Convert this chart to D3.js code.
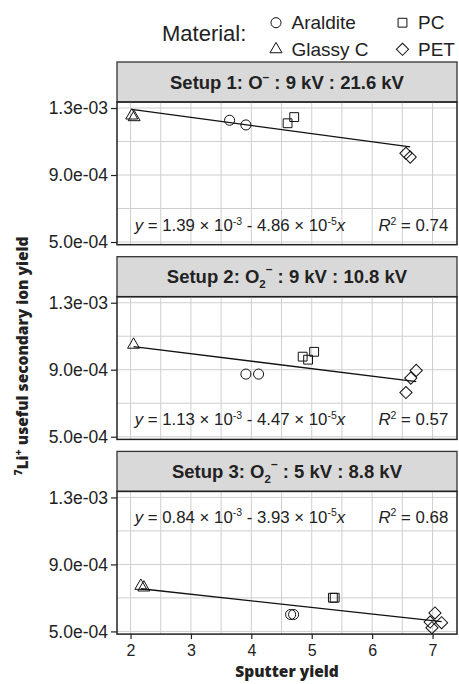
<!DOCTYPE html>
<html lang="en">
<head>
    <meta charset="UTF-8">
    <title>Li useful yield vs sputter yield</title>
    <script src="https://d3js.org/d3.v7.min.js"></script>
    <style>
        body { margin: 0; background: #fff; }
        text { font-family: "Liberation Sans", Arial, sans-serif; fill: #222; }
    </style>
</head>
<body>
<svg id="chart"></svg>

<script>
    // data
    var materials = ["Araldite", "Glassy C", "PC", "PET"];

    var ions = ["O", "O2", "O2"];
    var setupNames = ["Setup 1", "Setup 2", "Setup 3"];
    var primaryKV = ["9", "9", "5"];
    var totalKV = ["21.6", "10.8", "8.8"];

    // setup 1
    var s1Material = ["Araldite", "Araldite", "Glassy C", "Glassy C", "PC", "PC", "PET", "PET"];
    var s1Sputter = [3.64, 3.91, 2.02, 2.06, 4.60, 4.71, 6.56, 6.63];
    var s1Yield = [1.227e-3, 1.199e-3, 1.255e-3, 1.245e-3, 1.209e-3, 1.246e-3, 1.030e-3, 1.007e-3];

    // setup 2
    var s2Material = ["Araldite", "Araldite", "Glassy C", "PC", "PC", "PC", "PET", "PET", "PET"];
    var s2Sputter = [3.91, 4.12, 2.05, 4.85, 4.94, 5.04, 6.56, 6.64, 6.73];
    var s2Yield = [8.74e-4, 8.74e-4, 1.049e-3, 9.78e-4, 9.60e-4, 1.007e-3, 7.64e-4, 8.50e-4, 8.96e-4];

    // setup 3
    var s3Material = ["Araldite", "Araldite", "Glassy C", "Glassy C", "PC", "PC", "PET", "PET", "PET", "PET"];
    var s3Sputter = [4.65, 4.70, 2.17, 2.22, 5.35, 5.38, 7.04, 7.15, 6.99, 6.96];
    var s3Yield = [6.01e-4, 6.01e-4, 7.72e-4, 7.62e-4, 7.01e-4, 7.01e-4, 6.10e-4, 5.52e-4, 5.22e-4, 5.56e-4];

    // fits
    var interceptText = ["1.39", "1.13", "0.84"];
    var slopeText = ["4.86", "4.47", "3.93"];
    var intercepts = [1.39e-3, 1.13e-3, 0.84e-3];
    var slopes = [-4.86e-5, -4.47e-5, -3.93e-5];
    var rSquared = ["0.74", "0.57", "0.68"];
    var eqnY = [6.0e-4, 6.05e-4, 1.185e-3];

    var xTicks = [2, 3, 4, 5, 6, 7];
    var xMinor = [2.5, 3.5, 4.5, 5.5, 6.5];
    var yTicks = [5e-4, 9e-4, 1.3e-3];
    var yMinor = [7e-4, 1.1e-3];

    (function() {
        var width = 459, height = 684;
        var left = 117, right = 457;
        var top = 62, stripH = 40, panelH = 142.7, gap = 12;

        var svg = d3.select("#chart").attr("width", width).attr("height", height);
        svg.append("rect").attr("width", width).attr("height", height).attr("fill", "#fff");

        var x = d3.scaleLinear().domain([1.776, 7.405]).range([left, right]);

        var shapes = {
            "Araldite": d3.symbol().type(d3.symbolCircle).size(80),
            "Glassy C": d3.symbol().type(d3.symbolTriangle).size(62),
            "PC": d3.symbol().type(d3.symbolSquare).size(78),
            "PET": d3.symbol().type(d3.symbolSquare).size(74)
        };
        function shapeTransform(m, px, py) {
            return "translate(" + px + "," + py + ")" + (m === "PET" ? "rotate(45)" : "");
        }

        function fmt(v) {
            return d3.format(".1e")(v).replace(/e([+-])(\d)$/, "e$10$2");
        }

        var sets = [
            {mat: s1Material, sx: s1Sputter, sy: s1Yield},
            {mat: s2Material, sx: s2Sputter, sy: s2Yield},
            {mat: s3Material, sx: s3Sputter, sy: s3Yield}
        ];

        sets.forEach(function(set, i) {
            var sTop = top + i * (stripH + panelH + gap);
            var pTop = sTop + stripH;
            var y = d3.scaleLinear().domain([4.84e-4, 1.336e-3]).range([pTop + panelH, pTop]);

            // strip
            svg.append("rect").attr("x", left).attr("y", sTop).attr("width", right - left).attr("height", stripH)
                .attr("fill", "#d9d9d9").attr("stroke", "#333").attr("stroke-width", 1.3);
            var st = svg.append("text").attr("x", (left + right) / 2).attr("y", sTop + stripH / 2 + 6.5)
                .attr("text-anchor", "middle").attr("font-weight", "bold").attr("font-size", 18.5);
            st.append("tspan").text(setupNames[i] + ": O");
            if (ions[i] === "O2") {
                st.append("tspan").attr("font-size", 11.5).attr("dy", 5).text("2");
                st.append("tspan").attr("font-size", 12).attr("dy", -15).text("\u2013");
                st.append("tspan").attr("dy", 10).text(" : " + primaryKV[i] + " kV : " + totalKV[i] + " kV");
            } else {
                st.append("tspan").attr("font-size", 12).attr("dy", -8).text("\u2013");
                st.append("tspan").attr("dy", 8).text(" : " + primaryKV[i] + " kV : " + totalKV[i] + " kV");
            }

            // grid
            var g = svg.append("g");
            g.selectAll(".vx").data(xTicks.concat(xMinor)).enter().append("line")
                .attr("x1", function(d) { return x(d); }).attr("x2", function(d) { return x(d); })
                .attr("y1", pTop).attr("y2", pTop + panelH)
                .attr("stroke", "#cfcfcf").attr("stroke-width", 1);
            g.selectAll(".hy").data(yTicks.concat(yMinor)).enter().append("line")
                .attr("y1", function(d) { return y(d); }).attr("y2", function(d) { return y(d); })
                .attr("x1", left).attr("x2", right)
                .attr("stroke", "#cfcfcf").attr("stroke-width", 1);

            // fit line
            var xs = d3.extent(set.sx);
            svg.append("line")
                .attr("x1", x(xs[0])).attr("y1", y(intercepts[i] + slopes[i] * xs[0]))
                .attr("x2", x(xs[1])).attr("y2", y(intercepts[i] + slopes[i] * xs[1]))
                .attr("stroke", "#111").attr("stroke-width", 1.3);

            // points
            svg.append("g").selectAll("path").data(set.sx).enter().append("path")
                .attr("d", function(d, j) { return shapes[set.mat[j]](); })
                .attr("transform", function(d, j) { return shapeTransform(set.mat[j], x(d), y(set.sy[j])); })
                .attr("fill", "none").attr("stroke", "#111").attr("stroke-width", 1);

            // equation
            var eq = svg.append("text").attr("x", x(2.07)).attr("y", y(eqnY[i]) + 6).attr("font-size", 16.8);
            eq.append("tspan").attr("font-style", "italic").text("y");
            eq.append("tspan").text(" = " + interceptText[i] + " \u00d7 10");
            eq.append("tspan").attr("font-size", 10.5).attr("dy", -6.5).text("-3");
            eq.append("tspan").attr("dy", 6.5).text(" - " + slopeText[i] + " \u00d7 10");
            eq.append("tspan").attr("font-size", 10.5).attr("dy", -6.5).text("-5");
            eq.append("tspan").attr("dy", 6.5).attr("font-style", "italic").text("x");

            var rr = svg.append("text").attr("x", x(7.26)).attr("y", y(eqnY[i]) + 6)
                .attr("font-size", 16.8).attr("text-anchor", "end");
            rr.append("tspan").attr("font-style", "italic").text("R");
            rr.append("tspan").attr("font-size", 10.5).attr("dy", -6.5).text("2");
            rr.append("tspan").attr("dy", 6.5).text(" = " + rSquared[i]);

            // border
            svg.append("rect").attr("x", left).attr("y", pTop).attr("width", right - left).attr("height", panelH)
                .attr("fill", "none").attr("stroke", "#222").attr("stroke-width", 1.5);

            // y axis
            var ya = svg.append("g").attr("transform", "translate(" + left + ",0)")
                .call(d3.axisLeft(y).tickValues(yTicks).tickFormat(fmt).tickSize(6).tickPadding(3));
            ya.select(".domain").remove();
            ya.selectAll("line").attr("stroke", "#222").attr("stroke-width", 1.2);
            ya.selectAll("text").attr("font-size", 17.5).attr("fill", "#222")
                .attr("font-family", "Liberation Sans, Arial, sans-serif");

            if (i === 2) {
                var xa = svg.append("g").attr("transform", "translate(0," + (pTop + panelH) + ")")
                    .call(d3.axisBottom(x).tickValues(xTicks).tickFormat(d3.format("d")).tickSize(5).tickPadding(6));
                xa.select(".domain").remove();
                xa.selectAll("line").attr("stroke", "#222").attr("stroke-width", 1.2);
                xa.selectAll("text").attr("font-size", 16).attr("fill", "#222")
                    .attr("font-family", "Liberation Sans, Arial, sans-serif");
            }
        });

        // axis titles
        svg.append("text").attr("x", (left + right) / 2).attr("y", 677)
            .attr("text-anchor", "middle").attr("font-weight", 800).attr("font-size", 15.5)
            .style("font-family", "'Open Sans', sans-serif").text("Sputter yield");

        var yt = svg.append("text").attr("transform", "translate(28,356)rotate(-90)")
            .attr("text-anchor", "middle").attr("font-weight", 800).attr("font-size", 15.5)
            .style("font-family", "'Open Sans', sans-serif");
        yt.append("tspan").attr("font-size", 10.5).attr("dy", -6).text("7");
        yt.append("tspan").attr("dy", 6).text("Li");
        yt.append("tspan").attr("font-size", 10.5).attr("dy", -6).text("+");
        yt.append("tspan").attr("dy", 6).text(" useful secondary ion yield");

        // legend
        svg.append("text").attr("x", 162).attr("y", 41).attr("font-size", 22).text("Material:");
        var lg = svg.append("g").selectAll("g").data(materials).enter().append("g")
            .attr("transform", function(d, i) {
                return "translate(" + (276 + Math.floor(i / 2) * 126.5) + "," + (22.7 + (i % 2) * 26.6) + ")";
            });
        lg.append("path")
            .attr("d", function(d) { return shapes[d](); })
            .attr("transform", function(d) { return d === "PET" ? "rotate(45)" : null; })
            .attr("fill", "none").attr("stroke", "#111").attr("stroke-width", 1);
        lg.append("text").attr("x", 15.5).attr("y", 6.5).attr("font-size", 19).text(function(d) { return d; });
    })();
</script>
</body>
</html>
